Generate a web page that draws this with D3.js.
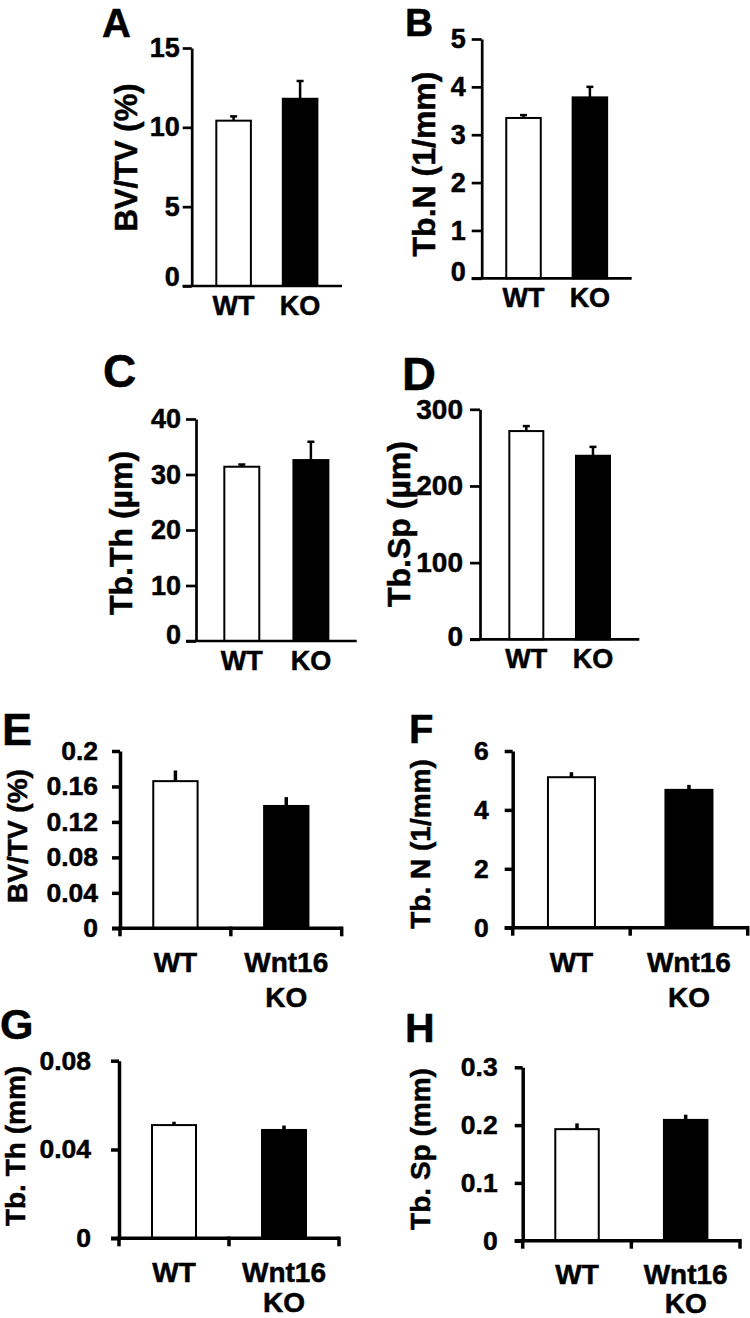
<!DOCTYPE html>
<html><head><meta charset="utf-8">
<script src="https://cdn.jsdelivr.net/npm/d3@7"></script>
<style>body{margin:0;background:#fff}svg{display:block}</style>
</head><body>
<svg id="chart" width="750" height="1318"></svg>
<script>
// ---------- data ----------
const groupsTop = ["WT", "KO"];
const groupsBottom = ["WT", "Wnt16 KO"];

const bvtvTicks = [0, 5, 10, 15];
const bvtvMeans = [10.42, 11.80];
const bvtvErr = [0.27, 1.12];

const tbnTicks = [0, 1, 2, 3, 4, 5];
const tbnMeans = [3.35, 3.78];
const tbnErr = [0.06, 0.22];

const tbthTicks = [0, 10, 20, 30, 40];
const tbthMeans = [31.4, 32.6];
const tbthErr = [0.4, 3.3];

const tbspTicks = [0, 100, 200, 300];
const tbspMeans = [271.6, 239.4];
const tbspErr = [6.5, 11.6];

const wBvtvTicks = [0, 0.04, 0.08, 0.12, 0.16, 0.2];
const wBvtvTickLabels = ["0", "0.04", "0.08", "0.12", "0.16", "0.2"];
const wBvtvMeans = [0.166, 0.138];
const wBvtvErr = [0.012, 0.010];

const wTbnTicks = [0, 2, 4, 6];
const wTbnTickLabels = ["0", "2", "4", "6"];
const wTbnMeans = [5.11, 4.68];
const wTbnErr = [0.17, 0.17];

const wTbthTicks = [0, 0.04, 0.08];
const wTbthTickLabels = ["0", "0.04", "0.08"];
const wTbthMeans = [0.0510, 0.0488];
const wTbthErr = [0.0015, 0.0020];

const wTbspTicks = [0, 0.1, 0.2, 0.3];
const wTbspTickLabels = ["0", "0.1", "0.2", "0.3"];
const wTbspMeans = [0.193, 0.209];
const wTbspErr = [0.010, 0.009];

// ---------- layout ----------
const FONT = "'Liberation Sans', Arial, Helvetica, sans-serif";
const TEXT_STROKE = 0.5;

const topStyle = { lw: 2.7, tickLen: 10, tickFont: 27, catFont: 27, catOff: 29, catLine: 0, cap: 3.5, errW: 2.5, downTicks: false };
const botStyle = { lw: 3.5, tickLen: 8, tickFont: 26.5, catFont: 28, catOff: 44, catLine: 35, cap: 0, errW: 3.5, downTicks: true };

const panels = [
  Object.assign({}, topStyle, { letter: "A", lx: 102, ly: 37, ls: 40, label: "BV/TV (%)", labX: 137, labY: 157.5, labSize: 31,
    groups: groupsTop, ticks: bvtvTicks, means: bvtvMeans, err: bvtvErr,
    ax: 191.7, right: 342, top: 48, bottom: 286, pi: 0.48, po: 0.37, tickLen: 9, gap: 12, zeroLift: 9 }),
  Object.assign({}, topStyle, { letter: "B", lx: 405, ly: 36, ls: 39, label: "Tb.N (1/mm)", labX: 435, labY: 164, labSize: 32,
    groups: groupsTop, ticks: tbnTicks, means: tbnMeans, err: tbnErr,
    ax: 481.7, right: 631.7, top: 39, bottom: 278.3, pi: 0.48, po: 0.37, gap: 16, zeroLift: 6 }),
  Object.assign({}, topStyle, { letter: "C", lx: 103, ly: 387, ls: 46, label: "Tb.Th (µm)", labX: 131.7, labY: 533, labSize: 32,
    groups: groupsTop, ticks: tbthTicks, means: tbthMeans, err: tbthErr,
    ax: 196, right: 356.7, top: 419, bottom: 641, pi: 0.494, po: 0.41, gap: 15, zeroLift: 6 }),
  Object.assign({}, topStyle, { letter: "D", lx: 402, ly: 390, ls: 47, label: "Tb.Sp (µm)", labX: 410, labY: 524, labSize: 32,
    groups: groupsTop, ticks: tbspTicks, means: tbspMeans, err: tbspErr,
    ax: 480, right: 639.3, top: 409.3, bottom: 639.3, pi: 0.49, po: 0.44, tickFont: 28, gap: 17, zeroLift: 3 }),
  Object.assign({}, botStyle, { letter: "E", lx: 2, ly: 745, ls: 45, label: "BV/TV (%)", labX: 26.7, labY: 836, labSize: 28,
    groups: groupsBottom, ticks: wBvtvTicks, tickLabels: wBvtvTickLabels, means: wBvtvMeans, err: wBvtvErr,
    ax: 120, right: 341.7, top: 751, bottom: 928.3, pi: 0.6, po: 0.3, gap: 22, zeroLift: 0 }),
  Object.assign({}, botStyle, { letter: "F", lx: 409, ly: 743, ls: 40, label: "Tb. N (1/mm)", labX: 430, labY: 844, labSize: 28,
    groups: groupsBottom, ticks: wTbnTicks, tickLabels: wTbnTickLabels, means: wTbnMeans, err: wTbnErr,
    ax: 512.7, right: 747.7, top: 751, bottom: 927.7, pi: 0.6, po: 0.3, gap: 24, zeroLift: 0 }),
  Object.assign({}, botStyle, { letter: "G", lx: 0, ly: 1039, ls: 43, label: "Tb. Th (mm)", labX: 25, labY: 1146, labSize: 28,
    groups: groupsBottom, ticks: wTbthTicks, tickLabels: wTbthTickLabels, means: wTbthMeans, err: wTbthErr,
    ax: 119, right: 339, top: 1060.7, bottom: 1238.3, pi: 0.6, po: 0.3, gap: 28, zeroLift: 0, catOff: 44, catLine: 30 }),
  Object.assign({}, botStyle, { letter: "H", lx: 405, ly: 1042, ls: 41, label: "Tb. Sp (mm)", labX: 430, labY: 1149, labSize: 28,
    groups: groupsBottom, ticks: wTbspTicks, tickLabels: wTbspTickLabels, means: wTbspMeans, err: wTbspErr,
    ax: 522.7, right: 740, top: 1067.3, bottom: 1240.7, pi: 0.6, po: 0.3, gap: 25, zeroLift: 0, catOff: 43, catLine: 29 })
];

// ---------- drawing ----------
const svg = d3.select("#chart");
svg.append("rect").attr("width", 750).attr("height", 1318).attr("fill", "#fff");

function boldText(sel, size) {
  return sel.attr("font-family", FONT).attr("font-size", size).attr("font-weight", "bold")
    .attr("fill", "#000").attr("stroke", "#000").attr("stroke-width", TEXT_STROKE);
}

function drawPanel(p) {
  const g = svg.append("g");
  const y = d3.scaleLinear().domain([p.ticks[0], p.ticks[p.ticks.length - 1]]).range([p.bottom, p.top]);
  const x = d3.scaleBand().domain(p.groups).range([p.ax, p.right]).paddingInner(p.pi).paddingOuter(p.po);
  const data = p.groups.map((c, i) => ({ c, m: p.means[i], e: p.err[i], i }));

  // bars
  g.selectAll("rect.bar").data(data).join("rect").attr("class", "bar")
    .attr("x", d => x(d.c)).attr("width", x.bandwidth())
    .attr("y", d => y(d.m)).attr("height", d => y(0) - y(d.m))
    .attr("fill", d => d.i === 0 ? "#fff" : "#000")
    .attr("stroke", "#000").attr("stroke-width", 2);

  // error bars (upper only)
  const cx = d => x(d.c) + x.bandwidth() / 2;
  g.selectAll("line.err").data(data).join("line").attr("class", "err")
    .attr("x1", cx).attr("x2", cx)
    .attr("y1", d => y(d.m)).attr("y2", d => y(d.m + d.e))
    .attr("stroke", "#000").attr("stroke-width", p.errW);
  if (p.cap > 0) {
    g.selectAll("line.cap").data(data).join("line").attr("class", "cap")
      .attr("x1", d => cx(d) - p.cap).attr("x2", d => cx(d) + p.cap)
      .attr("y1", d => y(d.m + d.e)).attr("y2", d => y(d.m + d.e))
      .attr("stroke", "#000").attr("stroke-width", p.errW);
  }

  // y axis
  const yAxis = d3.axisLeft(y).tickValues(p.ticks)
    .tickFormat((d, i) => p.tickLabels ? p.tickLabels[i] : String(d))
    .tickSize(p.tickLen).tickSizeOuter(0).tickPadding(p.gap - p.tickLen);
  const ya = g.append("g").attr("transform", `translate(${p.ax},0)`).call(yAxis);
  ya.attr("font-family", FONT).attr("font-size", p.tickFont).attr("font-weight", "bold");
  ya.selectAll("path,line").attr("stroke", "#000").attr("stroke-width", p.lw);
  ya.selectAll("text").attr("fill", "#000").attr("stroke", "#000").attr("stroke-width", TEXT_STROKE);
  ya.selectAll(".tick text").filter(d => d === 0).attr("y", -p.zeroLift);

  // x axis baseline
  g.append("line")
    .attr("x1", p.ax - p.tickLen).attr("x2", p.right)
    .attr("y1", y(0)).attr("y2", y(0))
    .attr("stroke", "#000").attr("stroke-width", p.lw);

  if (p.downTicks) {
    const centers = p.groups.map(c => x(c) + x.bandwidth() / 2);
    const bounds = [p.ax, (centers[0] + centers[1]) / 2, p.right];
    g.selectAll("line.dt").data(bounds).join("line").attr("class", "dt")
      .attr("x1", d => d).attr("x2", d => d)
      .attr("y1", y(0) - p.lw / 2).attr("y2", y(0) + 8)
      .attr("stroke", "#000").attr("stroke-width", p.lw);
  }

  // category labels
  data.forEach(d => {
    const lines = p.catLine > 0 ? d.c.split(" ") : [d.c];
    const t = boldText(g.append("text"), p.catFont)
      .attr("x", cx(d)).attr("y", y(0) + p.catOff)
      .attr("text-anchor", "middle");
    lines.forEach((ln, k) => {
      t.append("tspan").attr("x", cx(d)).attr("dy", k === 0 ? 0 : p.catLine).text(ln);
    });
  });

  // y label
  boldText(g.append("text"), p.labSize)
    .attr("transform", `translate(${p.labX},${p.labY}) rotate(-90)`)
    .attr("text-anchor", "middle")
    .text(p.label);

  // panel letter
  boldText(g.append("text"), p.ls)
    .attr("x", p.lx).attr("y", p.ly)
    .text(p.letter);
}

panels.forEach(drawPanel);
</script>
</body></html>
